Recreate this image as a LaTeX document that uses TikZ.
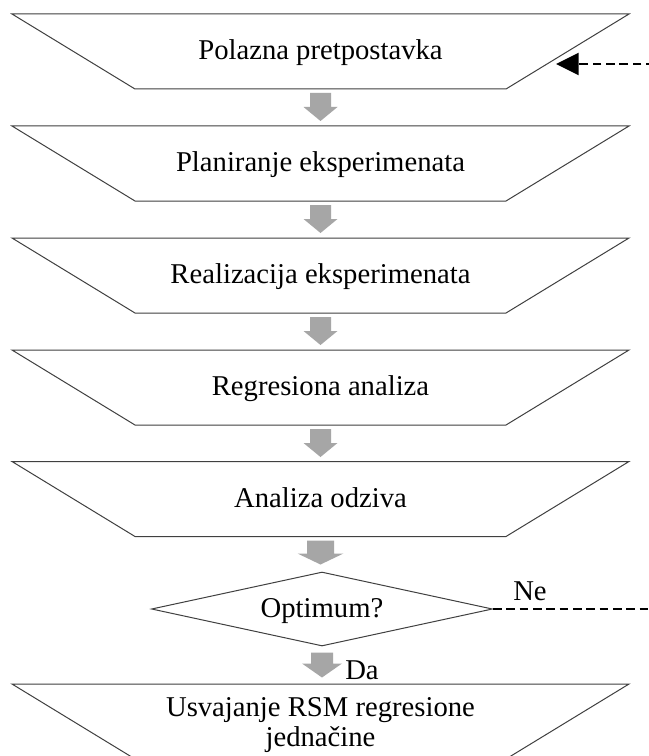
\documentclass[tikz,border=0pt]{standalone}
\usepackage{fontspec}
\setmainfont{Liberation Serif}
\usetikzlibrary{shapes.geometric,arrows.meta,calc}
\definecolor{edgecol}{RGB}{64,64,64}
\definecolor{arrowfill}{RGB}{166,166,166}
% #1 start anchor, #2 gap, #3 length, #4 shaft width, #5 head width, #6 head length (all px)
\newcommand\blkarrow[6]{%
  \fill[arrowfill, shift={(#1)}] (-#4/2,#2) -- (#4/2,#2) -- (#4/2,#2+#3-#6) -- (#5/2,#2+#3-#6)
    -- (0,#2+#3) -- (-#5/2,#2+#3-#6) -- (-#4/2,#2+#3-#6) -- cycle;}
% outline of an inverted trapezoid round a named box node
\newcommand\trapoutline[1]{%
  \draw[edgeline] (#1.north west) -- (#1.north east) -- ([xshift=-92.25pt]#1.south east)
    -- ([xshift=92.25pt]#1.south west) -- cycle;}
\begin{document}
\begin{tikzpicture}[x=0.75pt,y=-0.75pt,
  font=\fontsize{21.5}{22}\selectfont,
  edgeline/.style={draw=edgecol, line width=0.75pt, line join=miter},
  stepbox/.style={rectangle, minimum width=462.75pt, minimum height=56.25pt,
    inner sep=0pt, outer sep=0pt},
  onetext/.style={text height=15pt, text depth=2.4pt},
  decbox/.style={diamond, aspect=4.55, minimum width=255.75pt, minimum height=55.5pt,
    draw=edgecol, line width=0.75pt, inner sep=1pt},
  loopline/.style={line width=1.7pt, dash pattern=on 6.5pt off 3.5pt,
    -{Triangle[length=17pt,width=16.5pt]}},
  lbl/.style={inner sep=0pt, anchor=base west}
]
\useasboundingbox (0,0) rectangle (649,756);
\fill[white] (0,0) rectangle (649,756);
\clip (0,0) rectangle (649,756);

\node[stepbox, onetext] (t1) at (320.5,51.5) {Polazna pretpostavka};
\node[stepbox, onetext] (t2) at (320.5,163.5) {Planiranje eksperimenata};
\node[stepbox, onetext] (t3) at (320.5,275.5) {Realizacija eksperimenata};
\node[stepbox, onetext] (t4) at (320.5,387.5) {Regresiona analiza};
\node[stepbox, onetext] (t5) at (320.5,499) {Analiza odziva};
\node[decbox, onetext] (dec) at (322,609) {Optimum?};
\node[stepbox] (t6) at (320.5,721.5) {};
\node[align=center, inner sep=0pt] (t6text) at (320.5,725) {Usvajanje RSM regresione\\jedna\v{c}ine};

\foreach \n in {t1,t2,t3,t4,t5,t6} {\trapoutline{\n}}

\blkarrow{t1.south}{4}{28}{21}{34}{14}
\blkarrow{t2.south}{4}{28}{21}{34}{14}
\blkarrow{t3.south}{4}{28}{21}{34}{14}
\blkarrow{t4.south}{4}{28}{21}{34}{14}
\blkarrow{t5.south}{4}{24}{27}{46}{11}
\blkarrow{dec.south}{6}{25}{22}{40}{14}

\coordinate (back) at (556,64);
\draw[loopline] (dec.east) -- ++(175,0) |- (back);

\node[lbl] (ne) at (513,600) {Ne};
\node[lbl] (da) at (345,679) {Da};
\end{tikzpicture}
\end{document}
